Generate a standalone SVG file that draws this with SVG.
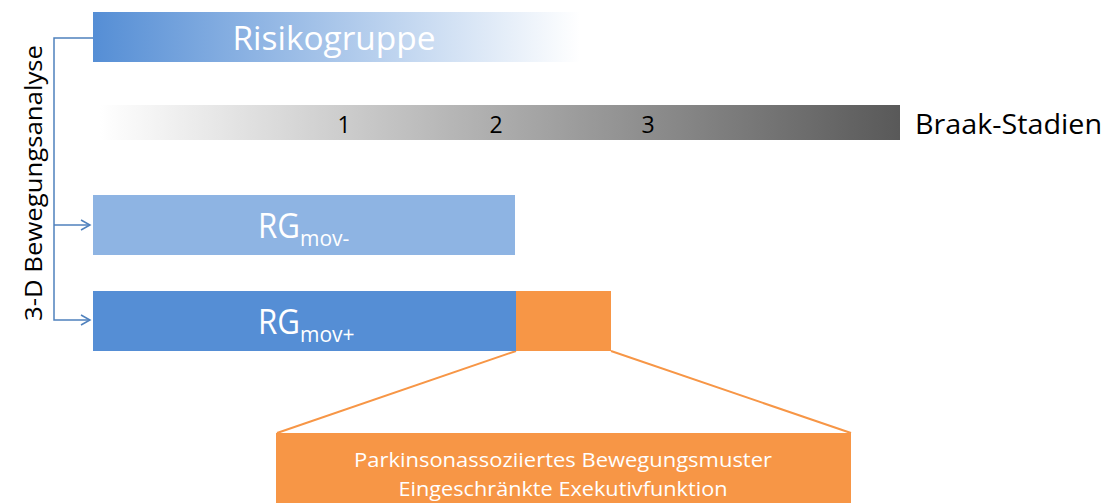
<svg xmlns="http://www.w3.org/2000/svg" width="1107" height="503" viewBox="0 0 1107 503">
<style>
text{font-family:"Open Sans","Liberation Sans",sans-serif}
.w{fill:#fff}
.k{fill:#000}
.conn{fill:none;stroke:#4F81BD;stroke-width:1.5}
.or{fill:none;stroke:#F79646;stroke-width:2}
</style>
<defs>
<linearGradient id="gBlue" x1="0" x2="1" y1="0" y2="0">
<stop offset="0" stop-color="#558ED5"/>
<stop offset="1" stop-color="#558ED5" stop-opacity="0"/>
</linearGradient>
<linearGradient id="gGray" x1="0" x2="1" y1="0" y2="0">
<stop offset="0" stop-color="#ffffff"/>
<stop offset="1" stop-color="#595959"/>
</linearGradient>
<marker id="arr" markerWidth="12" markerHeight="12" refX="10" refY="6" orient="auto" markerUnits="userSpaceOnUse">
<path d="M1,1 L10,6 L1,11" fill="none" stroke="#4F81BD" stroke-width="1.5"/>
</marker>
</defs>
<g id="connectors">
<path class="conn" d="M93,38 H54 V225"/>
<path class="conn" d="M54,225 H90" marker-end="url(#arr)"/>
<path class="conn" d="M54,225 V320 H90" marker-end="url(#arr)"/>
<path class="or" d="M516,351 L277,433"/>
<path class="or" d="M611,351 L851,433"/>
</g>
<g id="risikogruppe">
<rect x="93" y="12" width="487" height="50" fill="url(#gBlue)"/>
<text class="w" x="334" y="50" font-size="33" text-anchor="middle" textLength="203" lengthAdjust="spacingAndGlyphs">Risikogruppe</text>
</g>
<g id="braak">
<rect x="100" y="105" width="800" height="35" fill="url(#gGray)"/>
<text class="k" x="344" y="133" font-size="23" text-anchor="middle">1</text>
<text class="k" x="496" y="133" font-size="23" text-anchor="middle">2</text>
<text class="k" x="648" y="133" font-size="23" text-anchor="middle">3</text>
<text class="k" x="915" y="134" font-size="27" textLength="187" lengthAdjust="spacingAndGlyphs">Braak-Stadien</text>
</g>
<g id="analyse">
<text class="k" transform="translate(42,183) rotate(-90)" font-size="23" text-anchor="middle" textLength="276" lengthAdjust="spacingAndGlyphs">3-D Bewegungsanalyse</text>
</g>
<g id="rgmovminus">
<rect x="93" y="195" width="422" height="60" fill="#8EB4E3"/>
<text class="w" x="258" y="238" font-size="35"><tspan textLength="42" lengthAdjust="spacingAndGlyphs">RG</tspan><tspan dy="8" font-size="21">mov-</tspan></text>
</g>
<g id="rgmovplus">
<rect x="93" y="291" width="423" height="60" fill="#558ED5"/>
<text class="w" x="258" y="334" font-size="35"><tspan textLength="42" lengthAdjust="spacingAndGlyphs">RG</tspan><tspan dy="8" font-size="21">mov+</tspan></text>
</g>
<g id="orangeblock">
<rect x="516" y="291" width="95" height="60" fill="#F79646"/>
</g>
<g id="detailbox">
<rect x="276" y="433" width="575" height="75" fill="#F79646"/>
<text class="w" x="563" y="467" font-size="20" text-anchor="middle" textLength="418" lengthAdjust="spacingAndGlyphs">Parkinsonassoziiertes Bewegungsmuster</text>
<text class="w" x="563" y="496" font-size="20" text-anchor="middle" textLength="329" lengthAdjust="spacingAndGlyphs">Eingeschränkte Exekutivfunktion</text>
</g>
</svg>
